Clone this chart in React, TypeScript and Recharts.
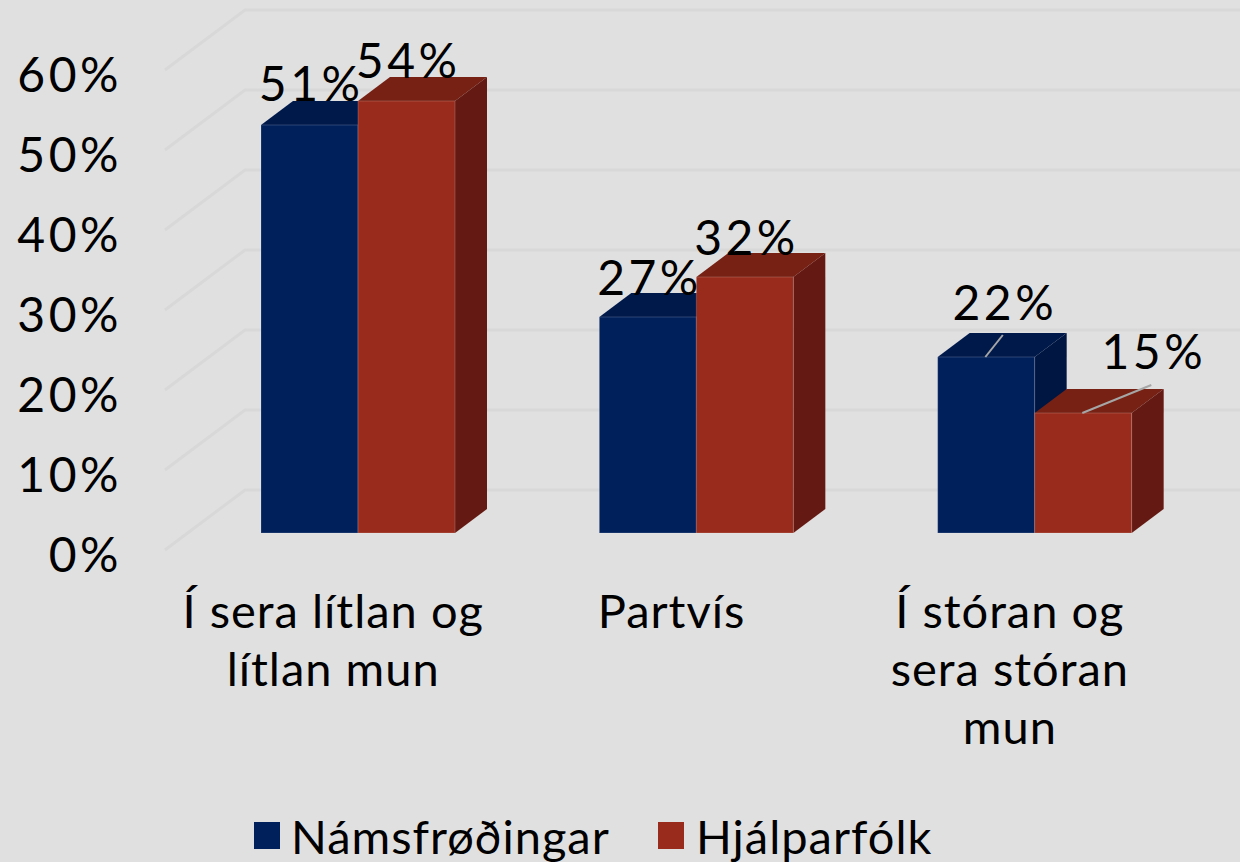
import React from "react";
import { ComposedChart, Bar, Line, XAxis, YAxis, CartesianGrid, Legend, LabelList } from "recharts";

const categories = ["Í sera lítlan og lítlan mun", "Partvís", "Í stóran og sera stóran mun"];
const categoryLines = [["Í sera lítlan og", "lítlan mun"], ["Partvís"], ["Í stóran og", "sera stóran", "mun"]];
const seriesNames = ["Námsfrøðingar", "Hjálparfólk"];
const namsfrodingar = [51, 27, 22];
const hjalparfolk = [54, 32, 15];
const yTicks = [0, 10, 20, 30, 40, 50, 60];

const data = categories.map((c, i) => ({ name: c, a: namsfrodingar[i], b: hjalparfolk[i] }));

const FONT = "Lato, 'Open Sans', sans-serif";
const FS = 47;
const LS = 1;
const NUM_FS = 48;
const NUM_LS = 3.5;
const BG = "#e0e0e0";
const GRID = "#d8d8d8";
const NAVY = { front: "#00205c", top: "#00194b", side: "#001642" };
const RED = { front: "#992b1c", top: "#772114", side: "#641a12" };
const DX = 32;
const DY = 24;

const box = (c: typeof NAVY) => (p: any) => {
  const { x, y, width: w, height: h } = p;
  return (
    <g>
      <polygon points={`${x},${y} ${x + DX},${y - DY} ${x + w + DX},${y - DY} ${x + w},${y}`} fill={c.top} />
      <polygon points={`${x + w},${y} ${x + w + DX},${y - DY} ${x + w + DX},${y + h - DY} ${x + w},${y + h}`} fill={c.side} />
      <rect x={x} y={y} width={w} height={h} fill={c.front} stroke="rgba(255,255,255,0.18)" strokeWidth={1} />
    </g>
  );
};

const labelPosA = [{ dx: -47, dy: -24 }, { dx: -47, dy: -22 }, { dx: -30, dy: -37, lead: [-49.5, 0, -32, -22] }];
const labelPosB = [{ dx: 50, dy: -23 }, { dx: 50, dy: -22 }, { dx: 119, dy: -44, lead: [47.5, 0, 116.5, -28] }];

const dataLabel = (pos: any[]) => (p: any) => {
  const { x, y, value, index } = p;
  const o = pos[index];
  return (
    <g>
      {o.lead && (
        <line x1={x + o.lead[0]} y1={y + o.lead[1]} x2={x + o.lead[2]} y2={y + o.lead[3]} stroke="#a6a6a6" strokeWidth={2} />
      )}
      <text x={x + o.dx} y={y + o.dy} textAnchor="middle" fontFamily={FONT} fontSize={NUM_FS} letterSpacing={NUM_LS} fill="#000">
        {value}%
      </text>
    </g>
  );
};

const gridLine = (p: any) => {
  const y = p.y1;
  return (
    <polyline
      key={p.key ?? y}
      points={`165,${y + 17} 245,${y - 43} 1240,${y - 43}`}
      fill="none"
      stroke={GRID}
      strokeWidth={3}
    />
  );
};

const YTick = (p: any) => (
  <text x={122} y={p.y + 38.5} textAnchor="end" fontFamily={FONT} fontSize={NUM_FS} letterSpacing={NUM_LS} fill="#000">
    {p.payload.value}%
  </text>
);

const XTick = (p: any) => {
  const lines = categoryLines[p.index] || [];
  return (
    <g>
      {lines.map((l, i) => (
        <text key={l} x={p.x - 25} y={628 + i * 58} textAnchor="middle" fontFamily={FONT} fontSize={FS} letterSpacing={LS} fill="#000">
          {l}
        </text>
      ))}
    </g>
  );
};

const legendColors = [NAVY.front, RED.front];
const LegendContent = () => (
  <div style={{ position: "absolute", left: 0, top: 0, width: 1240, height: 0 }}>
    {seriesNames.map((n, i) => (
      <React.Fragment key={n}>
        <div style={{ position: "absolute", left: i ? 658 : 254, top: 822, width: 26, height: 27, background: legendColors[i] }} />
        <div
          style={{
            position: "absolute",
            left: i ? 696 : 291,
            top: 811,
            fontFamily: FONT,
            fontSize: FS,
            letterSpacing: LS,
            lineHeight: "50px",
            color: "#000",
            whiteSpace: "nowrap",
          }}
        >
          {n}
        </div>
      </React.Fragment>
    ))}
  </div>
);

export default function App() {
  return (
    <div style={{ position: "absolute", left: 0, top: 0, width: 1240, height: 862, background: BG, overflow: "hidden" }}>
      <ComposedChart
        width={1240}
        height={862}
        data={data}
        margin={{ top: 53, right: 36, bottom: 0, left: 0 }}
        barSize={97}
        barGap={0}
      >
        <CartesianGrid horizontal={gridLine} vertical={false} />
        <XAxis dataKey="name" height={329} tick={XTick} axisLine={false} tickLine={false} interval={0} />
        <YAxis width={189} domain={[0, 60]} ticks={yTicks} tick={YTick} axisLine={false} tickLine={false} interval={0} />
        <Legend content={<LegendContent />} wrapperStyle={{ position: "absolute", left: 0, top: 0, width: 1240, height: 0 }} />
        <Bar dataKey="a" name={seriesNames[0]} shape={box(NAVY)} isAnimationActive={false} />
        <Bar dataKey="b" name={seriesNames[1]} shape={box(RED)} isAnimationActive={false} />
        <Line dataKey="a" stroke="none" dot={false} activeDot={false} legendType="none" isAnimationActive={false}>
          <LabelList dataKey="a" content={dataLabel(labelPosA)} />
        </Line>
        <Line dataKey="b" stroke="none" dot={false} activeDot={false} legendType="none" isAnimationActive={false}>
          <LabelList dataKey="b" content={dataLabel(labelPosB)} />
        </Line>
      </ComposedChart>
    </div>
  );
}
